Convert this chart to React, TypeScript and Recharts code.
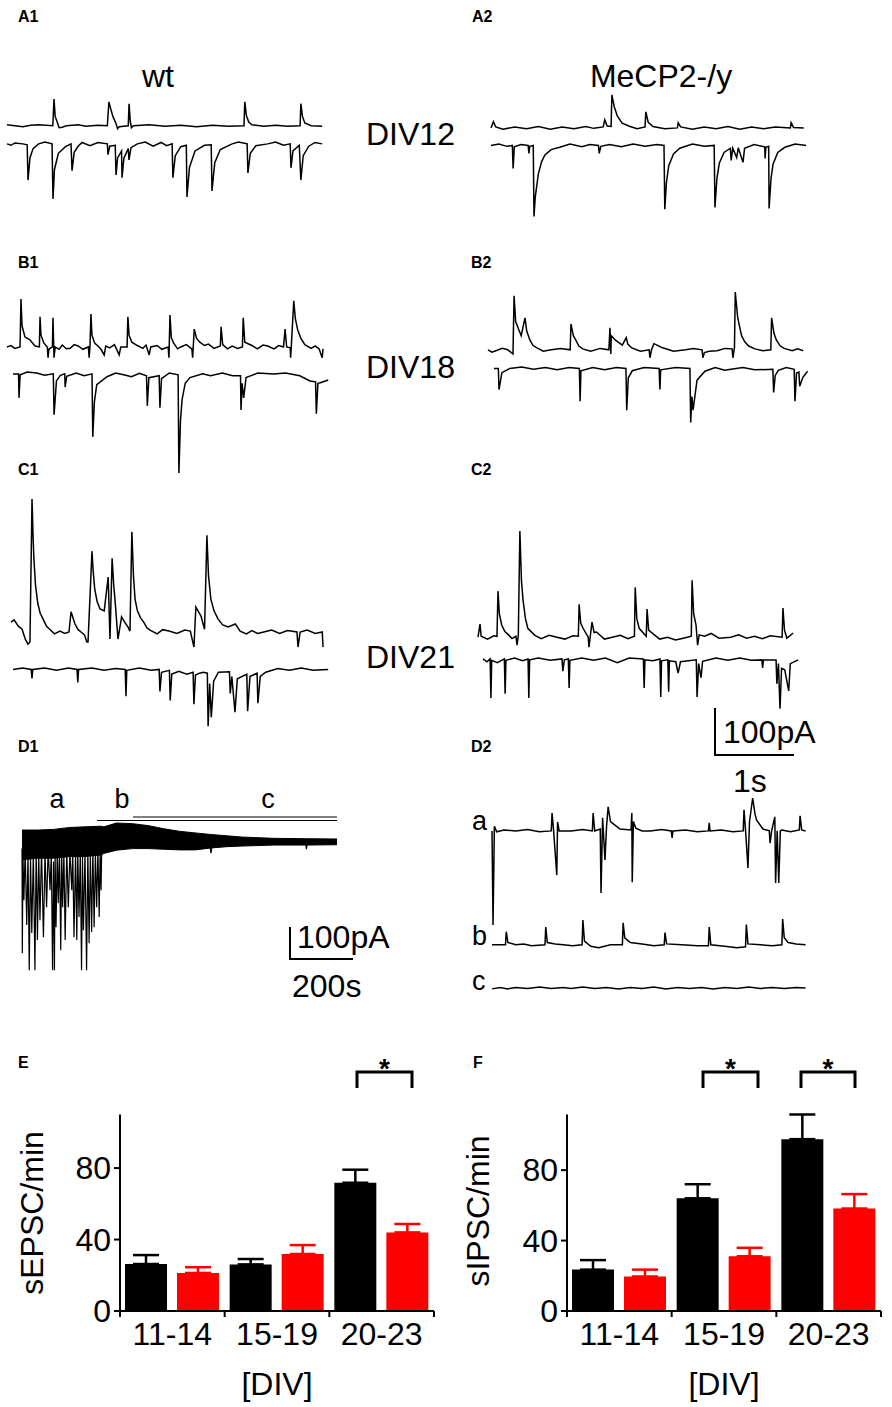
import React from 'react';
import { LineChart, Line, AreaChart, Area, BarChart, Bar, ErrorBar, XAxis, YAxis } from 'recharts';

type Pt = [number, number]; // [time (s), current (pA)]

// ---- traces A–C and D2: 1 s / 100 pA scale bar ----
const a1Top: Pt[] = [[0, 2], [0.1, 0], [0.2, -2], [0.3, 1], [0.4, 2], [0.58, 0], [0.595, 57], [0.61, 20], [0.646, 3], [0.66, -4], [0.7, -3], [0.75, 0], [0.9, 2], [1.0, -1], [1.15, 1], [1.27, 0], [1.29, 51], [1.31, 38], [1.34, 20], [1.38, 5], [1.4, -6], [1.42, -2], [1.535, 0], [1.545, 47], [1.56, 10], [1.575, -4], [1.6, 0], [1.8, 2], [2.0, -1], [2.2, 1], [2.4, -2], [2.6, 1], [2.8, -1], [3.0, 0], [3.01, 51], [3.03, 22], [3.06, 8], [3.1, 2], [3.25, -1], [3.4, 1], [3.55, -1], [3.71, 0], [3.72, 47], [3.74, 20], [3.77, 6], [3.85, 0], [3.99, -1]];
const a1Bottom: Pt[] = [[0, 0], [0.05, -3], [0.1, 2], [0.2, 0], [0.255, -2], [0.266, -77], [0.29, -30], [0.33, -10], [0.4, 0], [0.48, 4], [0.57, 0], [0.582, -117], [0.6, -55], [0.65, -20], [0.74, -6], [0.81, 0], [0.823, -57], [0.85, -18], [0.9, -5], [0.95, 3], [1.05, -4], [1.15, 3], [1.27, 0], [1.278, -23], [1.3, -5], [1.37, -3], [1.38, -66], [1.4, -30], [1.45, -15], [1.456, -72], [1.48, -30], [1.535, -10], [1.544, -34], [1.57, -8], [1.65, 0], [1.75, 4], [1.85, -5], [1.95, 3], [2.02, -4], [2.09, 0], [2.1, -72], [2.13, -25], [2.2, -6], [2.27, -3], [2.278, -113], [2.31, -50], [2.38, -15], [2.5, -3], [2.585, -2], [2.595, -100], [2.63, -40], [2.7, -12], [2.85, 0], [2.93, 4], [3.04, 0], [3.05, -62], [3.08, -20], [3.15, -4], [3.3, 0], [3.4, 4], [3.5, -3], [3.585, 0], [3.595, -51], [3.62, -15], [3.7, -3], [3.72, -77], [3.75, -25], [3.82, -5], [3.9, 3], [3.99, 0]];
const a2Top: Pt[] = [[0, 0], [0.03, 13], [0.06, 2], [0.15, -3], [0.3, 2], [0.45, -2], [0.6, 3], [0.75, -3], [0.9, 2], [1.05, -2], [1.2, 3], [1.3, -1], [1.42, 2], [1.44, 17], [1.47, 4], [1.52, 3], [1.53, 70], [1.56, 45], [1.6, 25], [1.66, 10], [1.76, 3], [1.85, -2], [1.95, 2], [1.96, 34], [1.99, 12], [2.05, 3], [2.2, -2], [2.36, 0], [2.37, 11], [2.4, 2], [2.55, -3], [2.7, 2], [2.85, -2], [3.0, 3], [3.15, -3], [3.3, 2], [3.45, -2], [3.6, 2], [3.79, 0], [3.8, 11], [3.83, 1], [3.96, 0]];
const a2Bottom: Pt[] = [[0, 0], [0.1, 3], [0.2, -2], [0.27, 0], [0.28, -49], [0.295, -3], [0.38, 2], [0.47, 0], [0.48, -17], [0.49, -2], [0.535, 0], [0.544, -151], [0.56, -110], [0.6, -60], [0.64, -35], [0.68, -21], [0.76, -9], [0.87, -4], [1.0, 3], [1.15, -3], [1.25, 2], [1.36, 0], [1.37, -17], [1.39, -2], [1.5, 2], [1.65, -3], [1.8, 3], [1.95, -2], [2.1, 2], [2.19, 0], [2.2, -136], [2.22, -80], [2.25, -43], [2.31, -18], [2.39, -6], [2.55, 3], [2.7, -2], [2.825, 0], [2.835, -132], [2.86, -70], [2.89, -38], [2.95, -15], [3.03, -6], [3.04, -32], [3.06, -6], [3.11, -26], [3.13, -5], [3.19, -36], [3.21, -6], [3.33, 2], [3.465, -3], [3.47, -28], [3.48, -4], [3.515, -2], [3.52, -134], [3.545, -70], [3.57, -40], [3.63, -15], [3.72, -4], [3.85, 3], [3.99, 0]];

const b1Top: Pt[] = [[0, 0], [0.05, 3], [0.1, -3], [0.165, 0], [0.177, 102], [0.19, 45], [0.228, 21], [0.29, 15], [0.354, 2], [0.41, 0], [0.418, 64], [0.43, 25], [0.468, 8], [0.51, 0], [0.52, -23], [0.53, -5], [0.575, 0], [0.582, 62], [0.59, 10], [0.595, -23], [0.61, 0], [0.66, -5], [0.7, 4], [0.75, -4], [0.8, -3], [0.85, 5], [0.9, 2], [0.96, -5], [1.03, 0], [1.04, -23], [1.05, 0], [1.063, 70], [1.075, 25], [1.11, 8], [1.15, 2], [1.19, -5], [1.23, -17], [1.25, 2], [1.3, -2], [1.36, 5], [1.42, -17], [1.44, 0], [1.52, 0], [1.53, 64], [1.545, 25], [1.58, 10], [1.65, 3], [1.72, -3], [1.76, 4], [1.8, -17], [1.82, 0], [1.9, 3], [1.96, -5], [2.04, 0], [2.05, -23], [2.063, 68], [2.08, 20], [2.11, 8], [2.16, -4], [2.2, 0], [2.27, 5], [2.34, -4], [2.35, -23], [2.37, 38], [2.4, 18], [2.44, 10], [2.5, 3], [2.55, 6], [2.62, -3], [2.7, 2], [2.71, 43], [2.73, 5], [2.79, -4], [2.85, 2], [2.92, -3], [2.98, 0], [2.99, 62], [3.01, 10], [3.1, 3], [3.17, -4], [3.24, 4], [3.3, 2], [3.38, -4], [3.44, 3], [3.5, 0], [3.52, 38], [3.54, 0], [3.585, -2], [3.59, -23], [3.6, 5], [3.63, 98], [3.65, 60], [3.68, 36], [3.72, 18], [3.77, 5], [3.85, -3], [3.9, 2], [3.95, -4], [3.99, -23], [4.0, -4]];
const b1Bottom: Pt[] = [[0, 0], [0.07, 0], [0.076, -51], [0.09, -2], [0.18, 4], [0.3, 2], [0.4, -3], [0.51, 0], [0.52, -87], [0.55, -15], [0.6, -3], [0.655, 0], [0.66, -28], [0.68, -5], [0.8, 2], [0.9, -4], [1.0, 0], [1.01, -134], [1.03, -60], [1.06, -23], [1.19, -6], [1.3, 2], [1.4, -2], [1.5, -6], [1.6, 1], [1.69, -4], [1.7, -68], [1.72, -8], [1.85, -4], [1.86, -72], [1.88, -10], [1.98, 2], [2.09, -2], [2.1, -211], [2.12, -100], [2.14, -55], [2.18, -20], [2.24, -8], [2.4, 0], [2.5, -4], [2.65, 2], [2.78, -4], [2.88, -4], [2.886, -77], [2.9, -20], [2.92, -51], [2.95, -8], [3.1, 2], [3.3, 0], [3.45, 2], [3.63, -4], [3.76, -15], [3.83, -17], [3.84, -85], [3.86, -20], [3.89, -19], [3.99, -13]];
const b2Top: Pt[] = [[0, 0], [0.05, -5], [0.1, -2], [0.18, 3], [0.25, 0], [0.316, -9], [0.33, 115], [0.35, 60], [0.38, 47], [0.42, 30], [0.468, 68], [0.49, 40], [0.53, 21], [0.57, 9], [0.62, 4], [0.7, -3], [0.8, 0], [0.92, 3], [1.04, 0], [1.05, 55], [1.08, 30], [1.11, 21], [1.15, 8], [1.2, 2], [1.3, -3], [1.42, 3], [1.53, 0], [1.544, 47], [1.555, -9], [1.56, 30], [1.61, 21], [1.7, 10], [1.75, 26], [1.77, 12], [1.82, 4], [1.93, -3], [2.04, 0], [2.05, -17], [2.07, 0], [2.1, 13], [2.2, 5], [2.35, -3], [2.5, 0], [2.6, 3], [2.71, 0], [2.72, -17], [2.74, -6], [2.8, -3], [2.9, -2], [3.0, 3], [3.09, 2], [3.1, -17], [3.12, 5], [3.13, 123], [3.16, 70], [3.18, 53], [3.21, 30], [3.25, 17], [3.3, 8], [3.38, 2], [3.48, -2], [3.58, 0], [3.59, 68], [3.62, 35], [3.65, 21], [3.7, 8], [3.75, 3], [3.85, -2], [3.92, 2], [3.99, -2]];
const b2Bottom: Pt[] = [[0, 0], [0.055, 0], [0.063, -45], [0.1, -9], [0.2, 0], [0.35, 3], [0.5, -2], [0.65, 2], [0.8, -3], [0.95, 2], [1.08, 0], [1.09, -70], [1.1, -5], [1.25, 2], [1.4, -3], [1.55, 2], [1.67, 0], [1.68, -89], [1.7, -20], [1.75, -5], [1.9, 2], [2.09, 0], [2.1, -45], [2.11, -3], [2.3, 2], [2.48, 0], [2.49, -115], [2.505, -60], [2.52, -89], [2.57, -25], [2.67, -6], [2.8, 2], [2.92, -4], [3.0, -2], [3.15, 2], [3.3, -3], [3.53, -2], [3.54, -51], [3.56, -15], [3.6, -4], [3.7, 2], [3.8, -2], [3.81, -70], [3.83, -10], [3.86, -8], [3.87, -38], [3.91, -19], [3.97, -6]];

const c1Top: Pt[] = [[0, 21], [0.04, 26], [0.09, 13], [0.14, 6], [0.18, -15], [0.215, -26], [0.24, -21], [0.266, 283], [0.28, 200], [0.29, 155], [0.31, 100], [0.34, 60], [0.37, 40], [0.405, 28], [0.45, 12], [0.49, 6], [0.55, -4], [0.62, 2], [0.68, -3], [0.734, 0], [0.76, 43], [0.81, 17], [0.85, 5], [0.886, 0], [0.93, -6], [0.96, -21], [0.975, -21], [1.025, 172], [1.04, 130], [1.06, 91], [1.09, 65], [1.127, 49], [1.18, 45], [1.23, 117], [1.253, -15], [1.28, 157], [1.3, 100], [1.316, 70], [1.354, -15], [1.4, 32], [1.45, 18], [1.48, 11], [1.506, 2], [1.53, 213], [1.55, 120], [1.57, 70], [1.6, 45], [1.64, 30], [1.68, 21], [1.72, 9], [1.76, 4], [1.85, -4], [1.92, 5], [2.0, 2], [2.1, -3], [2.2, 4], [2.27, 2], [2.316, -32], [2.34, 53], [2.405, 34], [2.45, 6], [2.48, 206], [2.5, 120], [2.53, 70], [2.57, 45], [2.62, 28], [2.68, 15], [2.75, 11], [2.84, 17], [2.9, 2], [2.98, -4], [3.05, 3], [3.12, -3], [3.2, 0], [3.3, 4], [3.4, -3], [3.5, 3], [3.62, 0], [3.633, -32], [3.66, 0], [3.75, 4], [3.85, -3], [3.94, 0], [3.95, -32]];
const c1Bottom: Pt[] = [[0, 0], [0.12, 3], [0.23, 0], [0.24, -19], [0.25, 0], [0.4, 3], [0.55, -2], [0.7, 3], [0.81, 0], [0.82, -28], [0.83, 0], [1.0, 3], [1.15, -2], [1.3, 2], [1.42, 0], [1.43, -57], [1.44, -2], [1.6, 3], [1.75, -2], [1.85, 0], [1.86, -47], [1.88, -6], [1.98, -2], [1.99, -66], [2.01, -10], [2.1, -4], [2.2, -10], [2.28, -6], [2.29, -74], [2.31, -12], [2.36, -8], [2.41, -6], [2.46, -8], [2.47, -121], [2.49, -30], [2.51, -102], [2.54, -25], [2.6, -6], [2.74, -5], [2.75, -51], [2.77, -15], [2.81, -91], [2.84, -20], [2.96, -10], [2.97, -89], [3.0, -15], [3.09, -8], [3.1, -72], [3.13, -15], [3.2, -6], [3.35, 2], [3.5, -2], [3.65, 3], [3.8, -2], [3.99, 0]];
const c2Top: Pt[] = [[0, 0], [0.025, 28], [0.04, 2], [0.12, -4], [0.2, 3], [0.24, 2], [0.253, 98], [0.27, 50], [0.3, 26], [0.34, 12], [0.38, 6], [0.43, -3], [0.48, 2], [0.494, -17], [0.51, 3], [0.53, 226], [0.55, 120], [0.57, 79], [0.6, 40], [0.63, 19], [0.72, 4], [0.8, -3], [0.9, 4], [1.0, 0], [1.1, -4], [1.2, 3], [1.27, 2], [1.28, 70], [1.3, 30], [1.33, 19], [1.395, 0], [1.405, -21], [1.42, 0], [1.443, 32], [1.47, 10], [1.5, 11], [1.6, -4], [1.7, 0], [1.8, 4], [1.9, -3], [1.98, 2], [1.99, 106], [2.01, 40], [2.04, 19], [2.13, 2], [2.14, 60], [2.16, 15], [2.19, 11], [2.3, -4], [2.4, 0], [2.5, -6], [2.6, -2], [2.7, 2], [2.71, 121], [2.73, 50], [2.76, 26], [2.78, -17], [2.8, 5], [2.87, 2], [2.95, 8], [3.05, -2], [3.2, 0], [3.3, 5], [3.4, -2], [3.5, 2], [3.6, -3], [3.7, 3], [3.85, 0], [3.86, 62], [3.88, 15], [3.91, -2], [3.99, 9]];
const c2Bottom: Pt[] = [[0, 0], [0.05, -6], [0.09, 0], [0.1, -83], [0.11, -3], [0.18, -8], [0.27, 0], [0.28, -74], [0.29, -3], [0.4, 2], [0.5, -4], [0.57, 0], [0.58, -83], [0.59, -2], [0.7, 2], [0.85, -3], [1.0, 0], [1.01, -26], [1.03, -2], [1.08, 0], [1.09, -62], [1.1, -3], [1.25, 2], [1.4, -3], [1.55, 2], [1.7, -8], [1.85, 2], [2.03, 0], [2.04, -62], [2.05, -2], [2.15, -4], [2.24, 0], [2.25, -81], [2.26, -4], [2.34, -2], [2.35, -70], [2.36, -4], [2.44, -6], [2.47, -30], [2.5, -6], [2.7, -2], [2.71, -81], [2.73, -10], [2.76, -40], [2.78, -5], [2.95, 2], [3.1, -3], [3.25, 2], [3.4, -3], [3.53, -2], [3.54, -19], [3.55, -2], [3.71, -2], [3.72, -53], [3.74, -10], [3.76, -106], [3.78, -20], [3.82, -23], [3.87, -68], [3.89, -10], [3.99, -2]];

const d2a: Pt[] = [[0, 0], [0.013, -200], [0.03, 10], [0.06, -2], [0.15, 2], [0.3, 0], [0.45, 3], [0.6, -2], [0.75, 0], [0.76, 38], [0.78, 0], [0.82, -94], [0.83, 19], [0.85, 0], [1.0, 0], [1.15, 3], [1.27, 0], [1.28, 38], [1.3, 0], [1.37, 4], [1.38, -132], [1.4, 28], [1.43, -62], [1.45, 10], [1.47, 51], [1.5, 20], [1.52, 17], [1.62, 4], [1.76, 2], [1.77, 38], [1.775, -109], [1.79, 20], [1.82, 6], [1.9, 0], [2.0, 0], [2.15, 3], [2.27, 0], [2.28, -15], [2.29, 0], [2.45, 2], [2.6, -2], [2.74, 0], [2.75, 17], [2.76, 0], [2.9, 2], [3.05, -2], [3.18, 0], [3.19, 45], [3.21, 0], [3.24, -79], [3.26, 20], [3.3, 70], [3.33, 35], [3.35, 23], [3.43, 4], [3.51, 0], [3.52, -26], [3.54, 0], [3.58, 30], [3.59, -111], [3.61, 0], [3.63, -111], [3.65, 0], [3.67, 2], [3.78, -2], [3.89, 2], [3.9, 32], [3.92, 2], [3.97, 0]];
const d2b: Pt[] = [[0, 0], [0.17, 0], [0.18, 28], [0.2, 5], [0.3, 0], [0.4, 2], [0.5, -2], [0.67, 0], [0.68, 38], [0.7, 5], [0.8, 2], [0.9, 0], [1.02, -2], [1.14, 0], [1.15, 53], [1.17, 8], [1.25, -3], [1.35, -6], [1.5, 0], [1.65, 0], [1.66, 47], [1.68, 15], [1.75, 5], [1.9, 2], [2.05, -2], [2.18, 0], [2.19, 26], [2.21, 2], [2.4, 0], [2.6, -2], [2.74, -2], [2.75, 38], [2.77, 0], [3.0, -4], [3.1, -6], [3.21, -4], [3.22, 43], [3.24, 2], [3.4, 0], [3.55, -2], [3.67, 0], [3.68, 55], [3.7, 15], [3.75, 5], [3.85, 2], [3.97, 0]];
const d2c: Pt[] = [[0, -2], [0.1, 1], [0.2, -2], [0.3, 1], [0.45, -1], [0.6, 2], [0.75, -1], [0.9, 1], [1.0, -1], [1.15, 2], [1.3, -1], [1.45, 1], [1.6, -2], [1.75, 1], [1.9, -1], [2.05, 2], [2.2, -2], [2.35, 1], [2.5, -1], [2.65, 1], [2.8, -2], [2.95, 1], [3.1, -1], [3.25, 2], [3.4, -1], [3.55, 1], [3.7, -1], [3.85, 1], [3.97, 0]];

// ---- D1: 1000 s recording, 200 s / 100 pA scale bar ----
const d1Envelope: [number, number, number][] = [[0, -55, 38], [50, -50, 38], [100, -50, 40], [150, -45, 46], [200, -45, 48], [250, -40, 50], [260, -35, 48], [300, -25, 60], [350, -20, 58], [400, -20, 52], [450, -22, 42], [500, -24, 34], [550, -24, 29], [600, -18, 24], [650, -14, 20], [700, -12, 16], [800, -9, 12], [900, -9, 11], [1000, -8, 10]];
const d1Events: Pt[] = [[0, -20], [1, -347], [3, -30], [6, -181], [10, -20], [15, -259], [19, -30], [23, -400], [27, -40], [31, -284], [36, -30], [41, -400], [45, -20], [49, -306], [53, -30], [57, -244], [62, -20], [68, -297], [73, -30], [78, -203], [83, -20], [89, -150], [93, -30], [97, -400], [100, -60], [103, -400], [105, -30], [108, -266], [112, -20], [115, -191], [119, -30], [123, -338], [126, -20], [129, -203], [133, -30], [137, -306], [142, -20], [147, -203], [152, -30], [158, -150], [161, -20], [165, -297], [170, -30], [174, -306], [177, -20], [181, -234], [185, -30], [189, -400], [192, -40], [195, -275], [200, -30], [205, -400], [209, -20], [213, -316], [217, -30], [221, -281], [225, -20], [229, -266], [233, -30], [237, -203], [241, -20], [245, -234], [248, -30], [251, -150], [253, -20], [254, -34], [260, 0], [300, 0], [595, 0], [600, -34], [605, 0], [900, 0], [903, -22], [906, 0], [1000, 0]];

// ---- E / F bar charts ----
const divGroups = ['11-14', '15-19', '20-23'];
const epscWt = [26.3, 26.1, 71.8];
const epscWtSem = [5.0, 3.0, 7.3];
const epscKo = [21.3, 31.9, 44.0];
const epscKoSem = [3.2, 5.0, 4.7];
const ipscWt = [23.5, 64.0, 97.6];
const ipscWtSem = [5.4, 8.0, 14.0];
const ipscKo = [19.6, 31.1, 58.2];
const ipscKoSem = [3.9, 4.8, 8.2];

const FONT = '"Liberation Sans", Arial, sans-serif';
const RED = '#ff0000';
const PAD = 2;

interface TraceProps {
    pts: Pt[];
    x0: number;
    base: number;
    sx?: number;
    sy?: number;
}

function Trace({ pts, x0, base, sx = 79, sy = 0.47 }: TraceProps) {
    const tMax = pts[pts.length - 1][0];
    const vMax = Math.max(0, ...pts.map(p => p[1]));
    const vMin = Math.min(0, ...pts.map(p => p[1]));
    const data = pts.map(([t, v]) => ({ t, v }));
    return (
        <div style={{ position: 'absolute', left: x0 - PAD, top: base - vMax * sy - PAD }}>
            <LineChart
                width={tMax * sx + PAD * 2}
                height={(vMax - vMin) * sy + PAD * 2}
                data={data}
                margin={{ top: PAD, right: PAD, bottom: PAD, left: PAD }}
            >
                <XAxis dataKey="t" type="number" domain={[0, tMax]} hide />
                <YAxis type="number" domain={[vMin, vMax]} hide />
                <Line type="linear" dataKey="v" stroke="#000" strokeWidth={1.5} dot={false} isAnimationActive={false} />
            </LineChart>
        </div>
    );
}

function LongTrace() {
    const sx = 0.315, sy = 0.32, x0 = 22, base = 842;
    const vMax = 60, vMin = -400, tMax = 1000;
    const w = tMax * sx + PAD * 2, h = (vMax - vMin) * sy + PAD * 2;
    const pos = { position: 'absolute' as const, left: x0 - PAD, top: base - vMax * sy - PAD };
    const m = { top: PAD, right: PAD, bottom: PAD, left: PAD };
    const env = d1Envelope.map(([t, lo, hi]) => ({ t, band: [lo, hi] }));
    const ev = d1Events.map(([t, v]) => ({ t, v }));
    return (
        <>
            <div style={pos}>
                <AreaChart width={w} height={h} data={env} margin={m}>
                    <XAxis dataKey="t" type="number" domain={[0, tMax]} hide />
                    <YAxis type="number" domain={[vMin, vMax]} hide />
                    <Area type="linear" dataKey="band" stroke="#000" strokeWidth={1} fill="#000" fillOpacity={1} isAnimationActive={false} />
                </AreaChart>
            </div>
            <div style={pos}>
                <LineChart width={w} height={h} data={ev} margin={m}>
                    <XAxis dataKey="t" type="number" domain={[0, tMax]} hide />
                    <YAxis type="number" domain={[vMin, vMax]} hide />
                    <Line type="linear" dataKey="v" stroke="#000" strokeWidth={1.2} dot={false} isAnimationActive={false} />
                </LineChart>
            </div>
        </>
    );
}

const BAND = 314 / 3;

function GroupTick(props: any) {
    const { x, y, payload, index } = props;
    return (
        <g>
            <line x1={x - BAND / 2} x2={x - BAND / 2} y1={y} y2={y + 6} stroke="#000" strokeWidth={2} />
            {index === divGroups.length - 1 && (
                <line x1={x + BAND / 2} x2={x + BAND / 2} y1={y} y2={y + 6} stroke="#000" strokeWidth={2} />
            )}
            <text x={x} y={y + 34} textAnchor="middle" fontSize={32} fill="#000" fontFamily={FONT}>{payload.value}</text>
        </g>
    );
}

interface RateChartProps {
    left: number;
    wt: number[];
    wtSem: number[];
    ko: number[];
    koSem: number[];
    axisWidth: number;
    right: number;
}

function RateChart({ left, wt, wtSem, ko, koSem, axisWidth, right }: RateChartProps) {
    const data = divGroups.map((g, i) => ({
        group: g,
        wt: wt[i],
        wtErr: [0, wtSem[i]],
        ko: ko[i],
        koErr: [0, koSem[i]],
    }));
    return (
        <div style={{ position: 'absolute', left, top: 1020 }}>
            <BarChart
                width={446}
                height={387}
                data={data}
                margin={{ top: 94.5, right, left: 0, bottom: 0 }}
                barSize={42}
                barGap={10}
            >
                <XAxis
                    dataKey="group"
                    height={96}
                    tickLine={false}
                    tickSize={0}
                    tickMargin={0}
                    axisLine={{ stroke: '#000', strokeWidth: 2 }}
                    tick={<GroupTick />}
                    interval={0}
                    label={{ value: '[DIV]', position: 'insideBottom', offset: 12, fontSize: 32, fill: '#000' }}
                />
                <YAxis
                    width={axisWidth}
                    type="number"
                    domain={[0, 110]}
                    ticks={[0, 40, 80]}
                    tickSize={6}
                    tickMargin={3}
                    tick={{ fontSize: 32, fill: '#000' }}
                    tickLine={{ stroke: '#000', strokeWidth: 2 }}
                    axisLine={{ stroke: '#000', strokeWidth: 2 }}
                />
                <Bar dataKey="wt" fill="#000" isAnimationActive={false}>
                    <ErrorBar dataKey="wtErr" direction="y" width={13} strokeWidth={2.5} stroke="#000" />
                </Bar>
                <Bar dataKey="ko" fill={RED} isAnimationActive={false}>
                    <ErrorBar dataKey="koErr" direction="y" width={13} strokeWidth={2.5} stroke={RED} />
                </Bar>
            </BarChart>
        </div>
    );
}

function Bracket({ x1, x2 }: { x1: number; x2: number }) {
    return (
        <g>
            <path d={`M${x1} 1088 V1072 H${x2} V1088`} fill="none" stroke="#000" strokeWidth={3} />
            <text x={(x1 + x2) / 2} y={1078} textAnchor="middle" fontSize={28} fontWeight="bold">*</text>
        </g>
    );
}

function Annotations() {
    const panel = { fontSize: 16, fontWeight: 'bold' as const };
    return (
        <svg width={892} height={1407} style={{ position: 'absolute', left: 0, top: 0, pointerEvents: 'none' }} fontFamily={FONT} fill="#000">
            <text x={18} y={22} {...panel}>A1</text>
            <text x={472} y={22} {...panel}>A2</text>
            <text x={18} y={268} {...panel}>B1</text>
            <text x={471} y={268} {...panel}>B2</text>
            <text x={18} y={475} {...panel}>C1</text>
            <text x={471} y={475} {...panel}>C2</text>
            <text x={18} y={752} {...panel}>D1</text>
            <text x={471} y={752} {...panel}>D2</text>
            <text x={18} y={1068} {...panel}>E</text>
            <text x={473} y={1068} {...panel}>F</text>

            <text x={158} y={87} fontSize={32} textAnchor="middle">wt</text>
            <text x={661} y={87} fontSize={32} textAnchor="middle">MeCP2-/y</text>
            <text x={366} y={145} fontSize={32}>DIV12</text>
            <text x={366} y={378} fontSize={32}>DIV18</text>
            <text x={366} y={668} fontSize={32}>DIV21</text>

            {/* 1 s / 100 pA bar */}
            <path d="M715 708 V755 H794" fill="none" stroke="#000" strokeWidth={2} />
            <text x={723} y={743} fontSize={32}>100pA</text>
            <text x={733} y={792} fontSize={32}>1s</text>

            {/* D1 epochs and scale bar */}
            <text x={57} y={808} fontSize={27} textAnchor="middle">a</text>
            <text x={122} y={808} fontSize={27} textAnchor="middle">b</text>
            <text x={268} y={808} fontSize={27} textAnchor="middle">c</text>
            <path d="M97 820.5 H337 M133 817 H337" fill="none" stroke="#000" strokeWidth={1.2} />
            <path d="M290 927 V959 H353" fill="none" stroke="#000" strokeWidth={2} />
            <text x={297} y={948} fontSize={32}>100pA</text>
            <text x={292} y={997} fontSize={32}>200s</text>

            <text x={472} y={830} fontSize={27}>a</text>
            <text x={472} y={945} fontSize={27}>b</text>
            <text x={472} y={990} fontSize={27}>c</text>

            <text transform="translate(43 1213) rotate(-90)" fontSize={32} textAnchor="middle">sEPSC/min</text>
            <text transform="translate(489 1211) rotate(-90)" fontSize={32} textAnchor="middle">sIPSC/min</text>
            <Bracket x1={357} x2={412} />
            <Bracket x1={703} x2={758} />
            <Bracket x1={801} x2={855} />
        </svg>
    );
}

export default function App() {
    return (
        <div style={{ position: 'absolute', left: 0, top: 0, width: 892, height: 1407, background: '#fff', fontFamily: FONT, overflow: 'hidden' }}>
            <Trace pts={a1Top} x0={7} base={126} />
            <Trace pts={a1Bottom} x0={7} base={144} />
            <Trace pts={a2Top} x0={491} base={128} />
            <Trace pts={a2Bottom} x0={491} base={145} />
            <Trace pts={b1Top} x0={7} base={347} />
            <Trace pts={b1Bottom} x0={13} base={374} />
            <Trace pts={b2Top} x0={488} base={350} />
            <Trace pts={b2Bottom} x0={494} base={368} />
            <Trace pts={c1Top} x0={11} base={632} />
            <Trace pts={c1Bottom} x0={13} base={669} />
            <Trace pts={c2Top} x0={478} base={637} />
            <Trace pts={c2Bottom} x0={483} base={659} />
            <LongTrace />
            <Trace pts={d2a} x0={492} base={831} />
            <Trace pts={d2b} x0={492} base={945} />
            <Trace pts={d2c} x0={492} base={988} />
            <RateChart left={0} wt={epscWt} wtSem={epscWtSem} ko={epscKo} koSem={epscKoSem} axisWidth={120} right={12} />
            <RateChart left={446} wt={ipscWt} wtSem={ipscWtSem} ko={ipscKo} koSem={ipscKoSem} axisWidth={121} right={11} />
            <Annotations />
        </div>
    );
}
